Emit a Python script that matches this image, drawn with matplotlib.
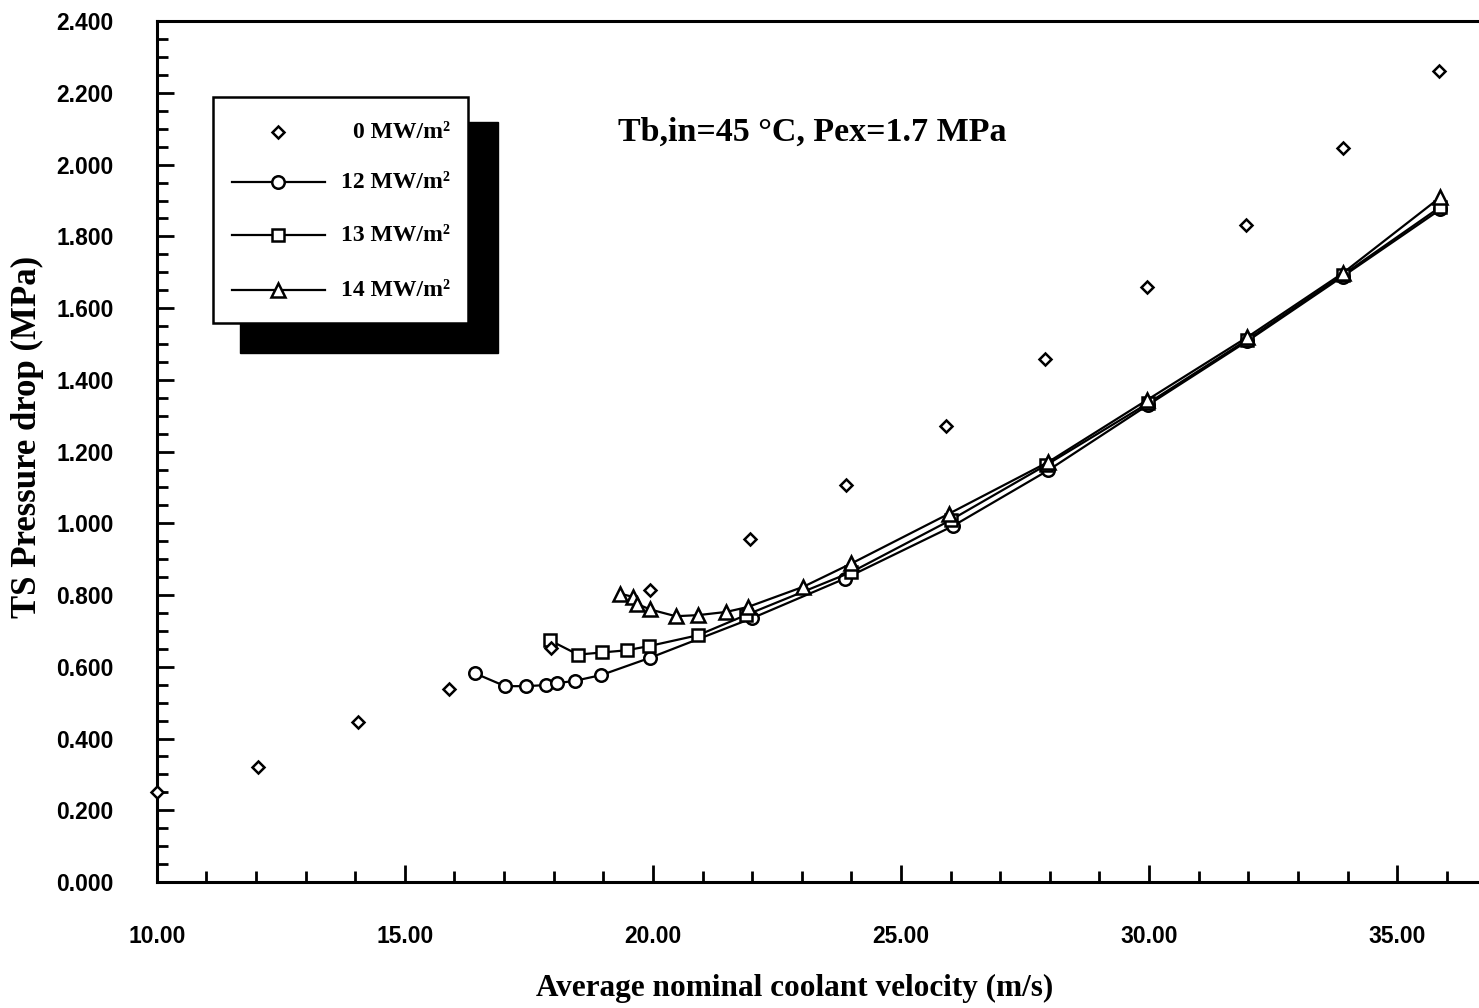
import matplotlib
matplotlib.use("Agg")
import matplotlib.pyplot as plt
from matplotlib.patches import Rectangle
from matplotlib.lines import Line2D
from matplotlib.ticker import MultipleLocator, FormatStrFormatter

# ---- data ----
x_0 = [10.0, 12.05, 14.05, 15.9, 17.95, 19.95, 21.95, 23.9, 25.9, 27.9, 29.95, 31.95, 33.9, 35.85]
y_0 = [0.251, 0.320, 0.446, 0.538, 0.652, 0.814, 0.956, 1.106, 1.271, 1.457, 1.658, 1.833, 2.045, 2.262]

x_12 = [16.41, 17.02, 17.44, 17.84, 18.06, 18.43, 18.96, 19.94, 21.99, 23.87, 26.04, 27.97, 29.98, 31.98, 33.9, 35.87]
y_12 = [0.582, 0.546, 0.546, 0.549, 0.554, 0.561, 0.577, 0.625, 0.735, 0.846, 0.992, 1.148, 1.330, 1.508, 1.688, 1.875]

x_13 = [17.92, 18.49, 18.98, 19.47, 19.93, 20.91, 21.87, 24.0, 26.0, 27.92, 29.98, 31.98, 33.9, 35.87]
y_13 = [0.674, 0.634, 0.640, 0.646, 0.658, 0.688, 0.744, 0.864, 1.009, 1.162, 1.335, 1.512, 1.692, 1.882]

x_14 = [19.33, 19.6, 19.67, 19.94, 20.46, 20.91, 21.48, 21.92, 23.03, 24.0, 25.97, 27.97, 29.95, 31.98, 33.9, 35.87]
y_14 = [0.804, 0.795, 0.776, 0.760, 0.741, 0.744, 0.753, 0.767, 0.823, 0.888, 1.027, 1.171, 1.343, 1.519, 1.697, 1.909]

labels = ["0 MW/m\u00b2", "12 MW/m\u00b2", "13 MW/m\u00b2", "14 MW/m\u00b2"]
annotation = "Tb,in=45 \u00b0C, Pex=1.7 MPa"
xlabel = "Average nominal coolant velocity (m/s)"
ylabel = "TS Pressure drop (MPa)"

SERIF = ["Liberation Serif", "DejaVu Serif"]
SANS = ["Liberation Sans", "DejaVu Sans"]

fig = plt.figure(figsize=(14.79, 10.08), dpi=100)
ax = fig.add_axes([0.106, 0.125, 0.894, 0.854])

ax.plot(x_0, y_0, linestyle="none", marker="D", markersize=6.5, markerfacecolor="white",
        markeredgecolor="black", markeredgewidth=1.8, clip_on=False, zorder=4)
ax.plot(x_12, y_12, color="black", lw=1.6, marker="o", markersize=9, markerfacecolor="white",
        markeredgecolor="black", markeredgewidth=1.8, zorder=3)
ax.plot(x_13, y_13, color="black", lw=1.6, marker="s", markersize=8.5, markerfacecolor="white",
        markeredgecolor="black", markeredgewidth=1.8, zorder=3)
ax.plot(x_14, y_14, color="black", lw=1.6, marker="^", markersize=9.5, markerfacecolor="white",
        markeredgecolor="black", markeredgewidth=1.8, zorder=3)

ax.set_xlim(10, 36.65)
ax.set_ylim(0, 2.4)

ax.xaxis.set_major_locator(MultipleLocator(5))
ax.xaxis.set_minor_locator(MultipleLocator(1))
ax.yaxis.set_major_locator(MultipleLocator(0.2))
ax.yaxis.set_minor_locator(MultipleLocator(0.05))
ax.xaxis.set_major_formatter(FormatStrFormatter("%.2f"))
ax.yaxis.set_major_formatter(FormatStrFormatter("%.3f"))

ax.tick_params(which="both", direction="in", width=2, color="black", top=False, right=False)
ax.tick_params(which="major", length=12)
ax.tick_params(which="minor", length=8)
ax.tick_params(axis="y", which="major", pad=31)
ax.tick_params(axis="x", which="major", pad=31)

for lab in ax.get_xticklabels() + ax.get_yticklabels():
    lab.set_fontfamily(SANS)
    lab.set_fontweight("bold")
    lab.set_fontsize(16.5)

for s in ["left", "bottom", "top"]:
    ax.spines[s].set_linewidth(2.2)
ax.spines["right"].set_visible(False)

ax.set_xlabel(xlabel, family=SERIF, fontweight="bold", fontsize=22.5)
ax.set_ylabel(ylabel, family=SERIF, fontweight="bold", fontsize=25)
ax.xaxis.set_label_coords(0.4826, -0.107)
ax.yaxis.set_label_coords(-0.085, 0.517)

ax.text(0.349, 0.871, annotation, transform=ax.transAxes, family=SERIF, fontweight="bold",
        fontsize=24.5, ha="left", va="center")

# ---- legend with solid black drop shadow ----
shadow = Rectangle((0.0628, 0.6144), 0.1951, 0.2683, transform=ax.transAxes,
                   facecolor="black", edgecolor="black", zorder=5)
box = Rectangle((0.0424, 0.6492), 0.1928, 0.2625, transform=ax.transAxes,
                facecolor="white", edgecolor="black", linewidth=1.8, zorder=6)
ax.add_patch(shadow)
ax.add_patch(box)

rows = [0.871, 0.813, 0.7515, 0.6876]
styles = [("D", "none", 6.5), ("o", "-", 9), ("s", "-", 8.5), ("^", "-", 9.5)]
for (mk, ls, ms), yy, lab in zip(styles, rows, labels):
    if ls != "none":
        ax.add_line(Line2D([0.0567, 0.1271], [yy, yy], transform=ax.transAxes, color="black",
                           lw=1.6, zorder=7))
    ax.add_line(Line2D([0.0915], [yy], transform=ax.transAxes, marker=mk, markersize=ms,
                       markerfacecolor="white", markeredgecolor="black", markeredgewidth=1.8,
                       linestyle="none", zorder=8))
    ax.text(0.2216, yy, lab, transform=ax.transAxes, family=SERIF, fontweight="bold",
            fontsize=17, ha="right", va="center", zorder=9)

fig.savefig("out.png", dpi=100)
